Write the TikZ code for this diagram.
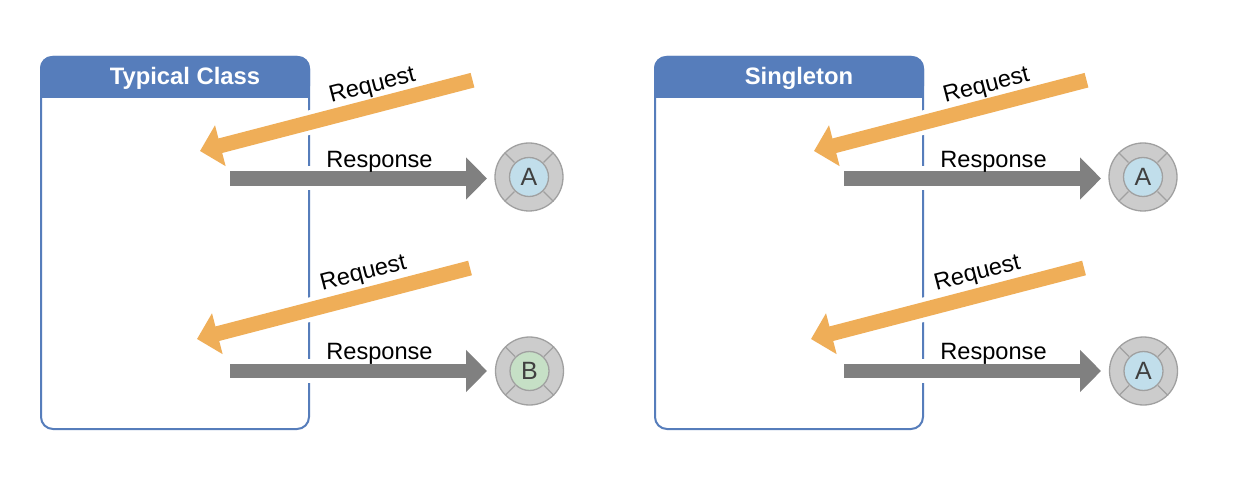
\documentclass[tikz,border=0pt]{standalone}
\usepackage{fontspec}
\setmainfont{Liberation Sans}
\usetikzlibrary{arrows.meta}
\definecolor{boxblue}{HTML}{567DBB}
\definecolor{reqorange}{HTML}{EFAE58}
\definecolor{resgray}{HTML}{808080}
\definecolor{ringgray}{HTML}{CCCCCC}
\definecolor{ringline}{HTML}{A0A0A0}
\definecolor{innerblue}{HTML}{C1DEEB}
\definecolor{innergreen}{HTML}{C6E0C6}
\definecolor{lettergray}{HTML}{404040}
\tikzset{
  reqarrow/.style={draw=reqorange,line width=15pt,-{Triangle[length=21pt,width=41pt]}},
  resarrow/.style={draw=resgray,line width=14.5pt,-{Triangle[length=21pt,width=41pt]}},
  halo/.style={draw=white,line width=24pt},
  lbl/.style={font=\fontsize{23.6pt}{26pt}\selectfont,text=black,inner sep=0pt},
  titlelbl/.style={font=\fontsize{23.8pt}{26pt}\selectfont\bfseries,text=white,inner sep=0pt},
  ring/.style={circle,draw=ringline,line width=1.3pt,fill=ringgray,minimum size=68pt,inner sep=0pt},
  hub/.style={circle,draw=ringline,line width=1.3pt,minimum size=39pt,inner sep=0pt,text=lettergray,font=\fontsize{25pt}{26pt}\selectfont},
  spoke/.style={draw=ringline,line width=1.3pt}
}
\newcommand{\myinstance}[5]{% name, x, y, colour, letter
  \node[ring] (#1r) at (#2,#3) {};
  \foreach \a in {45,135,225,315}
    \draw[spoke] (#1r.\a) -- ++(\a+180:14pt);
  \node[hub,fill=#4] (#1h) at (#2,#3) {#5};
}
\newcommand{\mypanel}[3]{% prefix, x offset, title
  \begin{scope}[xshift=#2pt]
    \node[inner sep=0pt,minimum size=0pt] (#1tl) at (41,57) {};
    \node[inner sep=0pt,minimum size=0pt] (#1br) at (309,429) {};
    \draw[boxblue,line width=2pt,rounded corners=12pt] (#1tl.center) rectangle (#1br.center);
    \fill[boxblue,rounded corners=12pt] (40,98) -- (40,56) -- (310,56) -- (310,98) -- cycle;
    \fill[boxblue] (40,90) rectangle (310,98);
    \node[titlelbl] (#1title) at (185,78) {#3};
    \coordinate (#1a1) at (472.5,80.2);
    \coordinate (#1a2) at (200,151);
    \coordinate (#1b1) at (230,178.5);
    \coordinate (#1b2) at (487,178.5);
    \coordinate (#1c1) at (470,268);
    \coordinate (#1c2) at (197,339);
    \coordinate (#1d1) at (230,371);
    \coordinate (#1d2) at (487,371);
    \draw[halo] (#1a1) -- (#1a2);
    \draw[halo] (#1b1) -- (#1b2);
    \draw[halo] (#1c1) -- (#1c2);
    \draw[halo] (#1d1) -- (#1d2);
    \draw[reqarrow] (#1a1) -- (#1a2);
    \draw[resarrow] (#1b1) -- (#1b2);
    \draw[reqarrow] (#1c1) -- (#1c2);
    \draw[resarrow] (#1d1) -- (#1d2);
    \node[lbl,rotate=14.5] (#1q1) at (372.5,86.5) {Request};
    \node[lbl] (#1s1) at (379.5,162) {Response};
    \node[lbl,rotate=14.5] (#1q2) at (363.5,274) {Request};
    \node[lbl] (#1s2) at (379.5,354) {Response};
  \end{scope}
}
\begin{document}
\begin{tikzpicture}[x=1pt,y=-1pt]
\useasboundingbox (0,0) rectangle (1260,478);
\fill[white] (0,0) rectangle (1260,478);
\mypanel{l}{0}{Typical Class}
\mypanel{r}{614}{Singleton}
\myinstance{la}{529}{177}{innerblue}{A}
\myinstance{lb}{529.5}{371}{innergreen}{B}
\myinstance{ra}{1143}{177}{innerblue}{A}
\myinstance{rb}{1143.5}{371}{innerblue}{A}
\end{tikzpicture}
\end{document}
